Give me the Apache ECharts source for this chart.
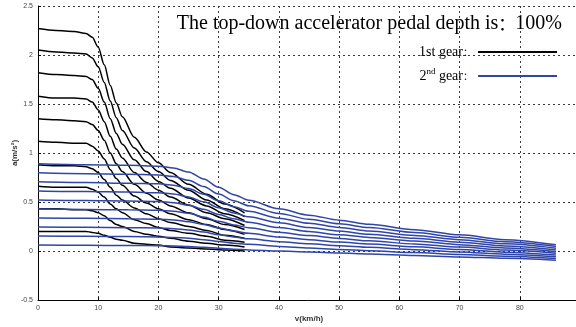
<!DOCTYPE html>
<html>
<head>
<meta charset="utf-8">
<script src="https://cdn.jsdelivr.net/npm/echarts@6/dist/echarts.min.js"></script>
<style>
  html, body { margin: 0; padding: 0; background: #fff; }
  #chart { width: 576px; height: 327px; }
</style>
</head>
<body>
<div id="chart"></div>
<script>
// speed points (km/h) for each gear
const gear1Speed = [0, 3, 6, 8, 9, 10, 11, 12, 13, 14, 16, 18, 20, 22, 25, 28, 31, 34.3];
const gear2Speed = [0, 8, 15, 20, 22.5, 25, 27.5, 30, 32.5, 35, 40, 45, 50, 55, 62.5, 70, 77.5, 86];

// 1st gear acceleration curves (m/s^2), top to bottom
const g1c1 = [2.27, 2.25, 2.24, 2.22, 2.18, 2.08, 1.90, 1.69, 1.51, 1.37, 1.16, 1.01, 0.90, 0.80, 0.68, 0.58, 0.48, 0.39];
const g1c2 = [2.05, 2.03, 2.02, 2.01, 1.97, 1.88, 1.72, 1.53, 1.36, 1.23, 1.05, 0.91, 0.81, 0.72, 0.62, 0.52, 0.43, 0.35];
const g1c3 = [1.82, 1.80, 1.79, 1.78, 1.75, 1.66, 1.52, 1.35, 1.20, 1.09, 0.93, 0.81, 0.71, 0.64, 0.54, 0.46, 0.38, 0.31];
const g1c4 = [1.58, 1.56, 1.56, 1.55, 1.52, 1.44, 1.32, 1.17, 1.04, 0.95, 0.80, 0.70, 0.62, 0.55, 0.47, 0.39, 0.33, 0.26];
const g1c5 = [1.35, 1.34, 1.33, 1.32, 1.29, 1.23, 1.13, 1.00, 0.89, 0.81, 0.68, 0.59, 0.52, 0.46, 0.39, 0.33, 0.27, 0.22];
const g1c6 = [1.12, 1.11, 1.10, 1.10, 1.07, 1.02, 0.94, 0.83, 0.74, 0.67, 0.56, 0.49, 0.43, 0.38, 0.32, 0.27, 0.22, 0.17];
const g1c7 = [0.88, 0.87, 0.87, 0.86, 0.84, 0.80, 0.73, 0.65, 0.57, 0.52, 0.44, 0.38, 0.33, 0.29, 0.25, 0.21, 0.16, 0.13];
const g1c8 = [0.66, 0.65, 0.65, 0.65, 0.63, 0.60, 0.55, 0.48, 0.43, 0.39, 0.32, 0.28, 0.24, 0.21, 0.18, 0.15, 0.11, 0.09];
const g1c9 = [0.43, 0.43, 0.42, 0.42, 0.41, 0.39, 0.36, 0.31, 0.27, 0.25, 0.20, 0.17, 0.15, 0.13, 0.10, 0.08, 0.06, 0.04];
const g1c10 = [0.20, 0.20, 0.20, 0.20, 0.19, 0.18, 0.16, 0.14, 0.12, 0.11, 0.08, 0.07, 0.06, 0.04, 0.03, 0.02, 0.01, 0.00];

// 2nd gear acceleration curves (m/s^2), top to bottom
const g2c1 = [0.890, 0.880, 0.874, 0.866, 0.848, 0.806, 0.735, 0.650, 0.575, 0.518, 0.431, 0.366, 0.315, 0.273, 0.217, 0.165, 0.116, 0.063];
const g2c2 = [0.798, 0.789, 0.783, 0.776, 0.759, 0.722, 0.657, 0.581, 0.513, 0.462, 0.383, 0.324, 0.278, 0.239, 0.188, 0.140, 0.094, 0.046];
const g2c3 = [0.706, 0.698, 0.692, 0.686, 0.671, 0.637, 0.580, 0.512, 0.452, 0.405, 0.335, 0.283, 0.241, 0.205, 0.159, 0.115, 0.073, 0.028];
const g2c4 = [0.613, 0.606, 0.601, 0.595, 0.582, 0.552, 0.502, 0.442, 0.389, 0.349, 0.287, 0.240, 0.203, 0.171, 0.130, 0.090, 0.052, 0.011];
const g2c5 = [0.521, 0.515, 0.510, 0.505, 0.493, 0.468, 0.425, 0.373, 0.328, 0.293, 0.239, 0.198, 0.166, 0.138, 0.101, 0.065, 0.031, -0.007];
const g2c6 = [0.429, 0.424, 0.420, 0.415, 0.405, 0.384, 0.347, 0.304, 0.266, 0.237, 0.191, 0.157, 0.128, 0.104, 0.072, 0.040, 0.010, -0.024];
const g2c7 = [0.337, 0.333, 0.329, 0.325, 0.317, 0.299, 0.270, 0.235, 0.204, 0.180, 0.143, 0.115, 0.091, 0.071, 0.043, 0.015, -0.012, -0.042];
const g2c8 = [0.245, 0.242, 0.238, 0.235, 0.228, 0.215, 0.193, 0.166, 0.143, 0.124, 0.095, 0.073, 0.054, 0.037, 0.014, -0.010, -0.033, -0.059];
const g2c9 = [0.152, 0.150, 0.147, 0.144, 0.139, 0.130, 0.115, 0.097, 0.080, 0.068, 0.047, 0.031, 0.016, 0.003, -0.016, -0.035, -0.054, -0.077];
const g2c10 = [0.060, 0.058, 0.056, 0.054, 0.051, 0.046, 0.037, 0.028, 0.019, 0.011, -0.001, -0.011, -0.021, -0.030, -0.045, -0.060, -0.075, -0.094];

const gear1Curves = [g1c1, g1c2, g1c3, g1c4, g1c5, g1c6, g1c7, g1c8, g1c9, g1c10];
const gear2Curves = [g2c1, g2c2, g2c3, g2c4, g2c5, g2c6, g2c7, g2c8, g2c9, g2c10];

const gear1Name = '1st gear：';
const gear2Name = '2nd gear：';

const serif = "'Liberation Serif', serif";
const cjk = "'Noto Sans CJK SC', sans-serif";
const sans = "'Liberation Sans', Arial, sans-serif";
const black = '#000000';
const blue = '#3045a8';

const chart = echarts.init(document.getElementById('chart'), null, { renderer: 'canvas' });

const makeSeries = (name, speeds, curves, color) =>
  curves.map(ys => ({
    name: name,
    type: 'line',
    data: speeds.map((x, i) => [x, ys[i]]),
    showSymbol: false,
    smooth: 0.3,
    smoothMonotone: 'x',
    silent: true,
    lineStyle: { color: color, width: 1.5 },
    itemStyle: { color: color }
  }));

const dashed = { color: '#3a3a3a', width: 1, type: [2, 3] };

chart.setOption({
  animation: false,
  backgroundColor: '#fff',
  title: {
    // the full-width colon is drawn with the CJK font
    text: '{t|The top-down accelerator pedal depth is}{c|：}{t|100%}',
    right: 14,
    top: 14,
    padding: 0,
    textStyle: {
      fontWeight: 'normal',
      rich: {
        t: { fontFamily: serif, fontSize: 20, fontWeight: 'normal', color: '#000' },
        c: { fontFamily: cjk, fontSize: 17, fontWeight: 'normal', color: '#000' }
      }
    }
  },
  legend: {
    data: [gear1Name, gear2Name],
    orient: 'vertical',
    align: 'right',
    right: 19,
    top: 45,
    padding: 0,
    itemGap: 8,
    itemWidth: 79,
    itemHeight: 2,
    icon: 'rect',
    selectedMode: false,
    formatter: name => name === gear2Name
      ? '{n|2}{s|nd}{n| gear}{c|：}'
      : '{n|1st gear}{c|：}',
    textStyle: {
      color: '#000',
      rich: {
        n: { fontFamily: serif, fontSize: 14, color: '#000', lineHeight: 18 },
        s: { fontFamily: serif, fontSize: 9, color: '#000', verticalAlign: 'top', lineHeight: 18 },
        c: { fontFamily: cjk, fontSize: 10, color: '#000', lineHeight: 18 }
      }
    }
  },
  grid: { left: 38, right: -4, top: 6, bottom: 27, containLabel: false, outerBoundsMode: 'none' },
  xAxis: {
    type: 'value',
    min: 0,
    max: 90,
    interval: 10,
    name: 'v(km/h)',
    nameLocation: 'middle',
    nameGap: 15,
    nameMoveOverlap: false,
    nameTextStyle: { fontFamily: sans, fontSize: 8, fontWeight: 'bold', color: '#333' },
    axisLine: { show: true, onZero: false, lineStyle: { color: '#000', width: 1 } },
    axisTick: { show: true, inside: true, length: 3, lineStyle: { color: '#000' } },
    axisLabel: { fontFamily: sans, fontSize: 7, color: '#444', margin: 5 },
    splitLine: { show: true, lineStyle: dashed }
  },
  yAxis: {
    type: 'value',
    min: -0.5,
    max: 2.5,
    interval: 0.5,
    name: 'a(m/s²)',
    nameLocation: 'middle',
    nameGap: 19,
    nameMoveOverlap: false,
    nameTextStyle: { fontFamily: sans, fontSize: 8, fontWeight: 'bold', color: '#333' },
    axisLine: { show: true, lineStyle: { color: '#000', width: 1 } },
    axisTick: { show: true, inside: true, length: 3, lineStyle: { color: '#000' } },
    axisLabel: { fontFamily: sans, fontSize: 7, color: '#444', margin: 5 },
    splitLine: { show: true, lineStyle: dashed }
  },
  series: [
    ...makeSeries(gear1Name, gear1Speed, gear1Curves, black),
    ...makeSeries(gear2Name, gear2Speed, gear2Curves, blue)
  ]
});
</script>
</body>
</html>
